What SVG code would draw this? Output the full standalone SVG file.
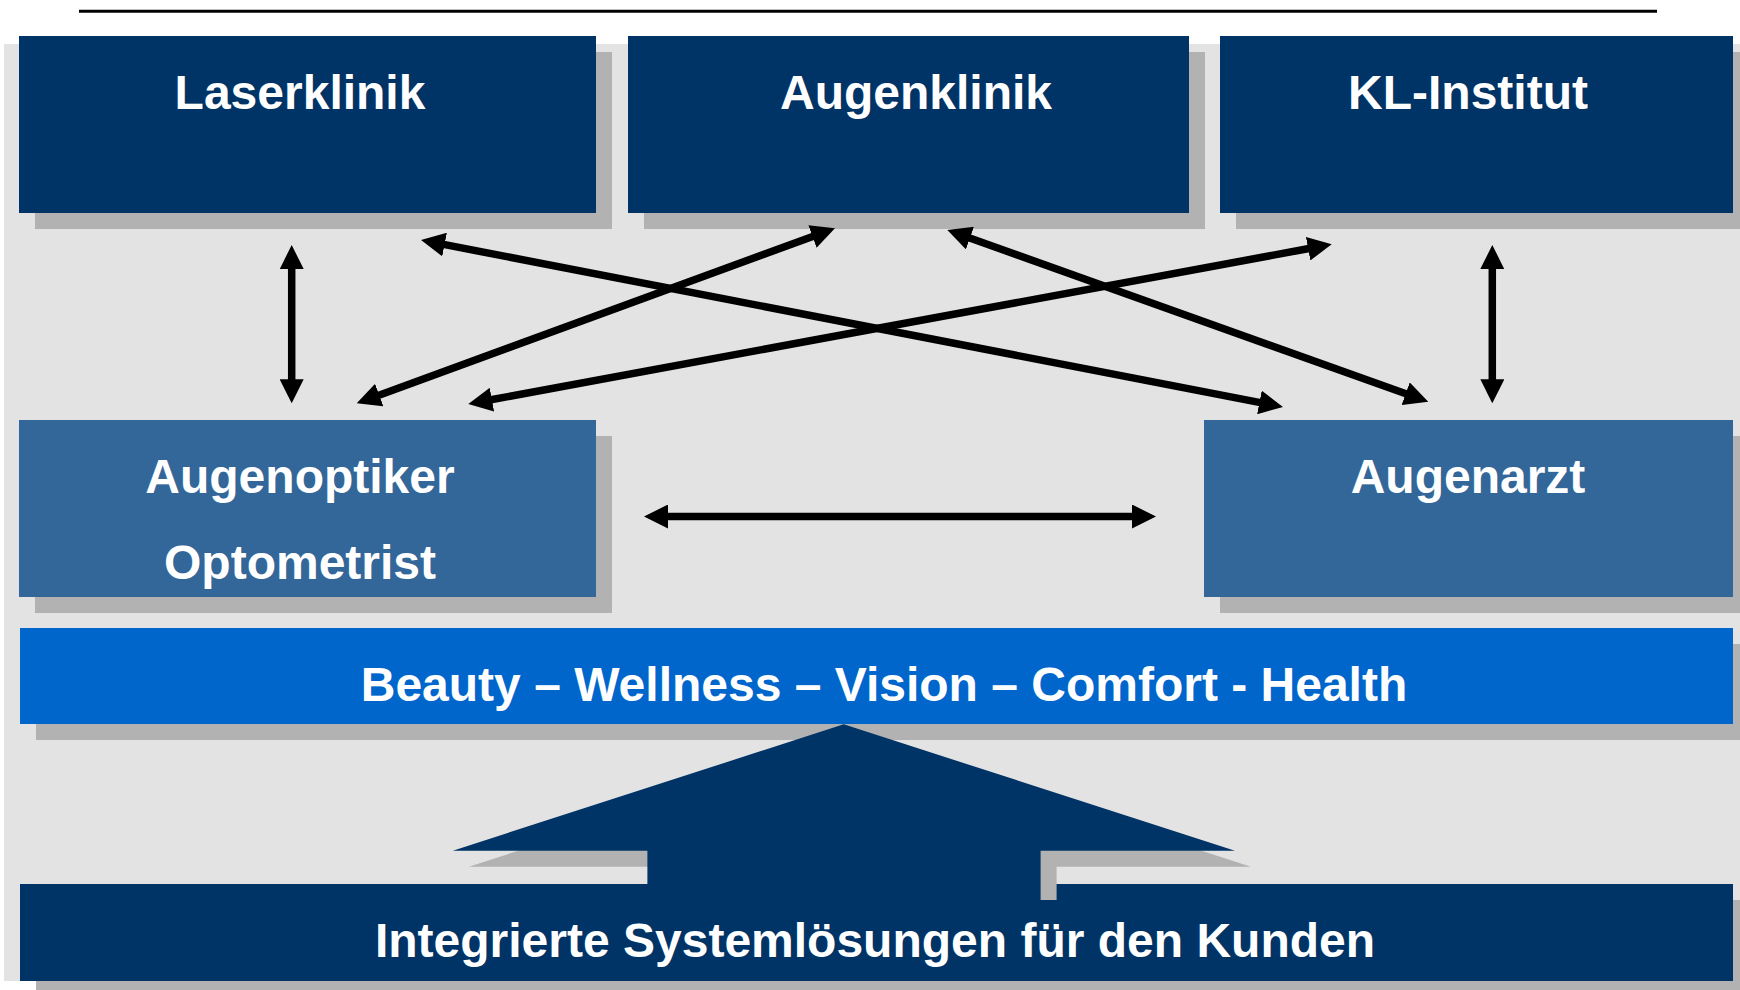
<svg xmlns="http://www.w3.org/2000/svg" width="1740" height="990" viewBox="0 0 1740 990">
  <style>
    .dark { fill: #003366; }
    .mid { fill: #336699; }
    .bright { fill: #0066CC; }
    .shadow { fill: #B2B2B2; }
    .label { font-family: "Liberation Sans", Arial, sans-serif; font-weight: bold; font-size: 48px; fill: #FFFFFF; text-anchor: middle; }
    .link { stroke: #000000; stroke-width: 7.5; fill: none; marker-start: url(#head); marker-end: url(#head); }
  </style>
  <defs>
    <marker id="head" viewBox="0 0 24 24" markerWidth="24" markerHeight="24" refX="1" refY="12" markerUnits="userSpaceOnUse" orient="auto-start-reverse">
      <path d="M0,0 L24,12 L0,24 z" fill="#000000"/>
    </marker>
  </defs>

  <!-- heading rule -->
  <line x1="79" y1="11.3" x2="1657" y2="11.3" stroke="#000000" stroke-width="3"/>

  <!-- panel -->
  <rect x="4" y="44" width="1736" height="937" fill="#E3E3E3"/>

  <!-- top row -->
  <g id="laserklinik">
    <rect class="shadow" x="35" y="52" width="577" height="177"/>
    <rect class="dark" x="19" y="36" width="577" height="177"/>
    <text class="label" x="300" y="109">Laserklinik</text>
  </g>
  <g id="augenklinik">
    <rect class="shadow" x="644" y="52" width="561" height="177"/>
    <rect class="dark" x="628" y="36" width="561" height="177"/>
    <text class="label" x="916" y="109">Augenklinik</text>
  </g>
  <g id="kl-institut">
    <rect class="shadow" x="1236" y="52" width="513" height="177"/>
    <rect class="dark" x="1220" y="36" width="513" height="177"/>
    <text class="label" x="1468" y="109">KL-Institut</text>
  </g>

  <!-- middle row -->
  <g id="augenoptiker">
    <rect class="shadow" x="35" y="436" width="577" height="177"/>
    <rect class="mid" x="19" y="420" width="577" height="177"/>
    <text class="label" x="300" y="493">Augenoptiker</text>
    <text class="label" x="300" y="579">Optometrist</text>
  </g>
  <g id="augenarzt">
    <rect class="shadow" x="1220" y="436" width="529" height="177"/>
    <rect class="mid" x="1204" y="420" width="529" height="177"/>
    <text class="label" x="1468" y="493">Augenarzt</text>
  </g>

  <!-- value bar -->
  <g id="werte">
    <rect class="shadow" x="36" y="644" width="1713" height="96"/>
    <rect class="bright" x="20" y="628" width="1713" height="96"/>
    <text class="label" x="884" y="701">Beauty – Wellness – Vision – Comfort - Health</text>
  </g>

  <!-- base bar -->
  <g id="systemloesungen">
    <rect class="shadow" x="36" y="900" width="1713" height="97"/>
    <rect class="dark" x="20" y="884" width="1713" height="97"/>
    <text class="label" x="875" y="957">Integrierte Systemlösungen für den Kunden</text>
  </g>

  <!-- upward block arrow; its shaft runs into the base bar -->
  <g id="pfeil">
    <polygon class="shadow" points="859.7,740.3 1251,866.7 1056.6,866.7 1056.6,900 663.4,900 663.4,866.7 468.8,866.7"/>
    <polygon class="dark" points="843.7,724.3 1235,850.7 1040.6,850.7 1040.6,912 647.4,912 647.4,850.7 452.8,850.7"/>
  </g>

  <!-- connectors -->
  <g id="connectors">
    <line class="link" x1="291.7" y1="268" x2="291.7" y2="380.3"/>
    <line class="link" x1="1492.3" y1="268" x2="1492.3" y2="380.3"/>
    <line class="link" x1="667" y1="516.5" x2="1133" y2="516.5"/>
    <line class="link" x1="443.6" y1="244.4" x2="1260.4" y2="402.6"/>
    <line class="link" x1="813.4" y1="236.2" x2="378.3" y2="395.4"/>
    <line class="link" x1="1309.1" y1="248.5" x2="490.9" y2="399.8"/>
    <line class="link" x1="969" y1="237.7" x2="1406.6" y2="394"/>
  </g>
</svg>
